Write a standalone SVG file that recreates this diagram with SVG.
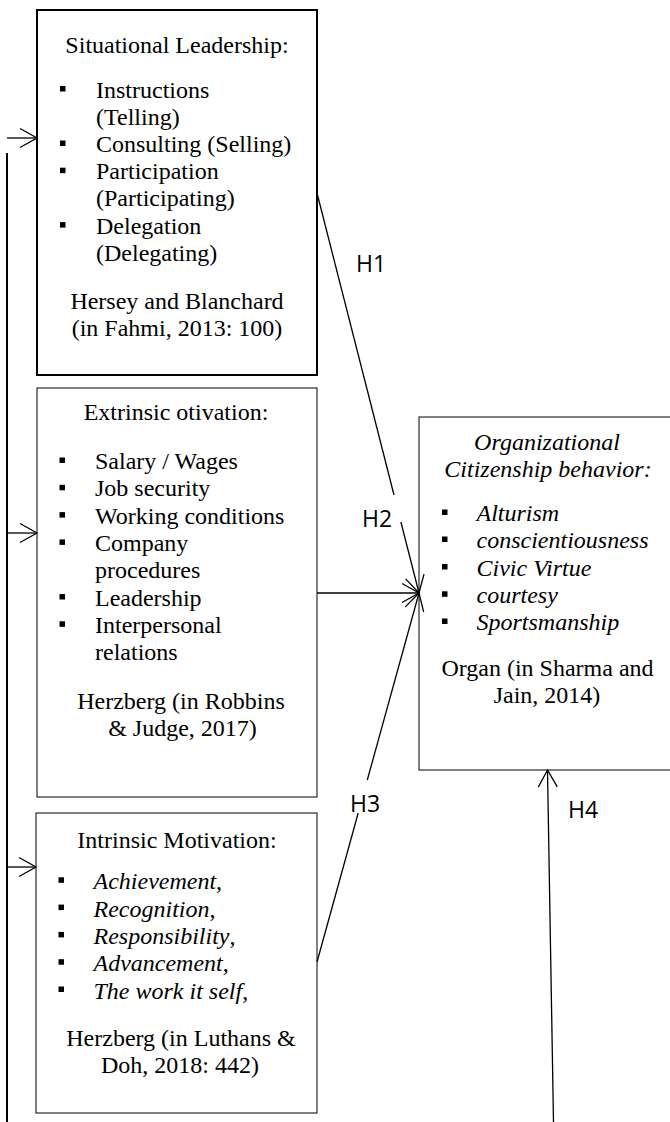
<svg xmlns="http://www.w3.org/2000/svg" width="670" height="1122" viewBox="0 0 670 1122">
<style>
  .box { fill: #ffffff; stroke: #000000; stroke-width: 1; }
  .thick { stroke-width: 2; }
  .t { font-family: "Liberation Serif", "Times New Roman", serif; font-size: 24px; fill: #000000; }
  .c { text-anchor: middle; }
  .i { font-style: italic; }
  .h { font-family: "Open Sans", "Liberation Sans", sans-serif; font-size: 23px; fill: #000000; }
  .b { fill: #000000; }
  .ln { stroke: #000000; stroke-width: 1.3; fill: none; }
  .lw { stroke: #000000; stroke-width: 2; fill: none; }
</style>
<defs>
  <marker id="arr" markerUnits="userSpaceOnUse" markerWidth="40" markerHeight="40" refX="0" refY="0" viewBox="-20 -20 40 40" orient="auto" overflow="visible">
    <path d="M-17,-9.5 L0,0 L-17,9.5" fill="none" stroke="#000000" stroke-width="1.3"/>
  </marker>
</defs>
<rect width="670" height="1122" fill="#ffffff"/>

<g id="situational-leadership">
  <rect class="box thick" x="37" y="10" width="280" height="365"/>
  <text class="t c" x="177" y="53">Situational Leadership:</text>
  <rect class="b" x="60" y="86" width="5.5" height="5.5"/>
  <text class="t" x="96" y="97.6">Instructions</text>
  <text class="t" x="96" y="124.8">(Telling)</text>
  <rect class="b" x="60" y="140.5" width="5.5" height="5.5"/>
  <text class="t" x="96" y="152">Consulting (Selling)</text>
  <rect class="b" x="60" y="167.7" width="5.5" height="5.5"/>
  <text class="t" x="96" y="179.2">Participation</text>
  <text class="t" x="96" y="206.4">(Participating)</text>
  <rect class="b" x="60" y="222.1" width="5.5" height="5.5"/>
  <text class="t" x="96" y="233.6">Delegation</text>
  <text class="t" x="96" y="260.8">(Delegating)</text>
  <text class="t c" x="177" y="309">Hersey and Blanchard</text>
  <text class="t c" x="177" y="336">(in Fahmi, 2013: 100)</text>
</g>

<g id="extrinsic-motivation">
  <rect class="box" x="37" y="388" width="280" height="409"/>
  <text class="t c" x="176" y="420">Extrinsic otivation:</text>
  <rect class="b" x="59.5" y="457.5" width="5.5" height="5.5"/>
  <text class="t" x="95" y="469">Salary / Wages</text>
  <rect class="b" x="59.5" y="484.8" width="5.5" height="5.5"/>
  <text class="t" x="95" y="496.3">Job security</text>
  <rect class="b" x="59.5" y="512.1" width="5.5" height="5.5"/>
  <text class="t" x="95" y="523.6">Working conditions</text>
  <rect class="b" x="59.5" y="539.4" width="5.5" height="5.5"/>
  <text class="t" x="95" y="550.9">Company</text>
  <text class="t" x="95" y="578.2">procedures</text>
  <rect class="b" x="59.5" y="594" width="5.5" height="5.5"/>
  <text class="t" x="95" y="605.5">Leadership</text>
  <rect class="b" x="59.5" y="621.3" width="5.5" height="5.5"/>
  <text class="t" x="95" y="632.8">Interpersonal</text>
  <text class="t" x="95" y="660.1">relations</text>
  <text class="t c" x="181" y="709">Herzberg (in Robbins</text>
  <text class="t c" x="182.5" y="736">&amp; Judge, 2017)</text>
</g>

<g id="intrinsic-motivation">
  <rect class="box" x="36" y="813" width="281" height="300"/>
  <text class="t c" x="177" y="848">Intrinsic Motivation:</text>
  <rect class="b" x="58.5" y="877.3" width="5.5" height="5.5"/>
  <text class="t" x="93.5" y="889.3"><tspan class="i">Achievement</tspan>,</text>
  <rect class="b" x="58.5" y="904.6" width="5.5" height="5.5"/>
  <text class="t" x="93.5" y="916.6"><tspan class="i">Recognition</tspan>,</text>
  <rect class="b" x="58.5" y="931.9" width="5.5" height="5.5"/>
  <text class="t" x="93.5" y="943.9"><tspan class="i">Responsibility</tspan>,</text>
  <rect class="b" x="58.5" y="959.2" width="5.5" height="5.5"/>
  <text class="t" x="93.5" y="971.2"><tspan class="i">Advancement</tspan>,</text>
  <rect class="b" x="58.5" y="986.5" width="5.5" height="5.5"/>
  <text class="t" x="93.5" y="998.5"><tspan class="i">The work it self</tspan>,</text>
  <text class="t c" x="181" y="1046">Herzberg (in Luthans &amp;</text>
  <text class="t c" x="180" y="1073">Doh, 2018: 442)</text>
</g>

<g id="ocb">
  <rect class="box" x="419" y="417" width="253" height="353" stroke="#333333"/>
  <text class="t c i" x="547" y="450">Organizational</text>
  <text class="t c i" x="548" y="477">Citizenship behavior:</text>
  <rect class="b" x="442" y="509.5" width="5.5" height="5.5"/>
  <text class="t i" x="476.5" y="521">Alturism</text>
  <rect class="b" x="442" y="536.5" width="5.5" height="5.5"/>
  <text class="t i" x="476.5" y="548">conscientiousness</text>
  <rect class="b" x="442" y="564" width="5.5" height="5.5"/>
  <text class="t i" x="476.5" y="575.5">Civic Virtue</text>
  <rect class="b" x="442" y="591.3" width="5.5" height="5.5"/>
  <text class="t i" x="476.5" y="602.8">courtesy</text>
  <rect class="b" x="442" y="618.5" width="5.5" height="5.5"/>
  <text class="t i" x="476.5" y="630">Sportsmanship</text>
  <text class="t c" x="547.5" y="675.5">Organ (in Sharma and</text>
  <text class="t c" x="547" y="703">Jain, 2014)</text>
</g>

<g id="connectors">
  <line class="lw" x1="7" y1="153" x2="7" y2="1122"/>
  <line class="ln" x1="7" y1="138" x2="37" y2="138" marker-end="url(#arr)"/>
  <line class="ln" x1="7" y1="533" x2="37" y2="533" marker-end="url(#arr)"/>
  <line class="ln" x1="7" y1="867" x2="36" y2="867" marker-end="url(#arr)"/>
  <line class="ln" x1="317" y1="193" x2="394" y2="495"/>
  <line class="ln" x1="400.9" y1="522" x2="419" y2="593" marker-end="url(#arr)"/>
  <line class="ln" x1="317" y1="593" x2="419" y2="593" marker-end="url(#arr)"/>
  <line class="ln" x1="317" y1="962" x2="358.2" y2="813"/>
  <line class="ln" x1="367.3" y1="780" x2="419" y2="593" marker-end="url(#arr)"/>
  <line class="ln" x1="553.5" y1="1122" x2="547.5" y2="770" marker-end="url(#arr)"/>
  <text class="h" x="356" y="272">H1</text>
  <text class="h" x="362" y="527">H2</text>
  <text class="h" x="350" y="812">H3</text>
  <text class="h" x="568" y="818">H4</text>
</g>
</svg>
